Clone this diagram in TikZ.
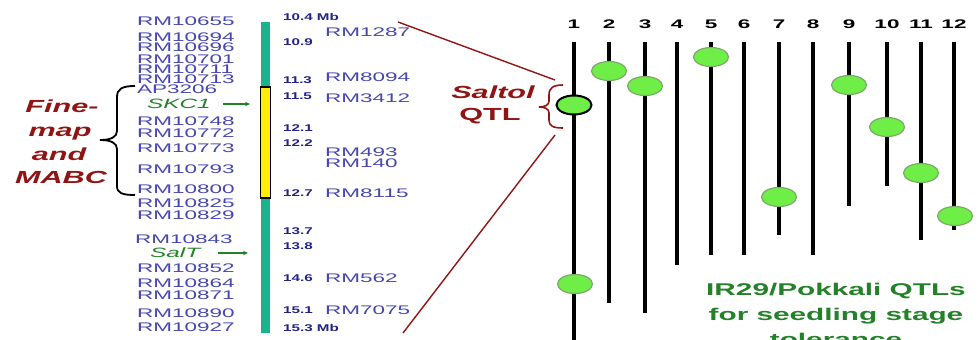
\documentclass[tikz,border=0pt]{standalone}
\usepackage{fontspec}
\setmainfont{Liberation Sans}
\newfontfamily\markfont[FakeStretch=1.8]{Liberation Sans}
\newfontfamily\posfont[FakeStretch=1.55]{Liberation Sans}
\newfontfamily\redfont[FakeStretch=1.75]{Liberation Sans}
\newfontfamily\notefont[FakeStretch=1.75]{Liberation Sans}
\usetikzlibrary{shapes.geometric,arrows.meta}

\definecolor{markblue}{RGB}{70,70,175}
\definecolor{posnavy}{RGB}{35,35,135}
\definecolor{genegreen}{RGB}{35,130,40}
\definecolor{qtlred}{RGB}{145,20,20}
\definecolor{chrteal}{RGB}{25,180,140}
\definecolor{segyellow}{RGB}{255,238,0}
\definecolor{qtlfill}{RGB}{110,238,70}
\definecolor{qtledge}{RGB}{125,170,105}

\tikzset{
  marker/.style={anchor=west, inner sep=0pt, text=markblue,
    font=\markfont\fontsize{12.5}{12.5}\selectfont},
  mbpos/.style={anchor=west, inner sep=0pt, text=posnavy,
    font=\posfont\bfseries\fontsize{9.8}{10}\selectfont},
  gene/.style={anchor=west, inner sep=0pt, text=genegreen,
    font=\markfont\itshape\fontsize{13.5}{14}\selectfont},
  genearrow/.style={-{Stealth[length=5pt,width=4.5pt]}, genegreen, line width=1.2pt},
  qtlline/.style={line width=4.5pt, black},
  qtl/.style={ellipse, minimum width=35pt, minimum height=19pt, inner sep=0pt,
    fill=qtlfill, draw=qtledge, line width=1.2pt},
  colnum/.style={inner sep=0pt, font=\markfont\bfseries\fontsize{12.5}{12.5}\selectfont},
  redtext/.style={anchor=base, inner sep=0pt, text=qtlred,
    font=\redfont\bfseries\itshape\fontsize{17.5}{17.5}\selectfont},
  note/.style={anchor=base, inner sep=0pt, text=genegreen,
    font=\notefont\bfseries\fontsize{17}{17}\selectfont},
  link/.style={qtlred, line width=1.4pt},
}

\begin{document}
\begin{tikzpicture}[x=1pt,y=-1pt]
\useasboundingbox (0,0) rectangle (980,340);

% chromosome bar with the Saltol segment
\fill[chrteal] (261,22) rectangle (270,333);
\draw[fill=segyellow, line width=1.8pt] (260.5,87) rectangle (270.5,198);

% markers to the left of the chromosome
\foreach \yy/\txt [count=\i] in {21/RM10655,37/RM10694,47/RM10696,59/RM10701,
  69/RM10711,79/RM10713,89/AP3206,121/RM10748,133/RM10772,148/RM10773,
  169/RM10793,189/RM10800,203/RM10825,215/RM10829,268/RM10852,
  283/RM10864,295/RM10871,313/RM10890,327/RM10927}
  \node[marker] (lm\i) at (137,\yy) {\txt};
\node[marker] (lm843) at (135,239) {RM10843};

% genes
\node[gene] (skc) at (147,104) {SKC1};
\coordinate (skcend) at (250,104);
\draw[genearrow] (223,104) -- (skcend);
\node[gene] (salt) at (150,253) {SalT};
\coordinate (saltend) at (248,253);
\draw[genearrow] (218,253) -- (saltend);

% physical positions
\foreach \yy/\txt [count=\i] in {17/10.4 Mb,42/10.9,80/11.3,96/11.5,128/12.1,
  143/12.2,193/12.7,231/13.7,246/13.8,278/14.6,310/15.1,328/15.3 Mb}
  \node[mbpos] (mb\i) at (283,\yy) {\txt};

% markers to the right of the chromosome
\foreach \yy/\txt [count=\i] in {32/RM1287,77/RM8094,98/RM3412,152/RM493,
  163/RM140,193/RM8115,278/RM562,310/RM7075}
  \node[marker] (rm\i) at (325,\yy) {\txt};

% fine-mapping brace and label
\node[redtext] (fine1) at (62,112) {Fine-};
\node[redtext] (fine2) at (60,136) {map};
\node[redtext] (fine3) at (59,160) {and};
\node[redtext] (fine4) at (61,183) {MABC};
\draw[line width=1.8pt] (135,86) .. controls (122,86) and (117,89) .. (117,97)
  -- (117,131) .. controls (117,137) and (111,140) .. (100,140)
  .. controls (111,140) and (117,143) .. (117,149)
  -- (117,186) .. controls (117,193) and (122,195) .. (135,195);

% Saltol QTL brace and label
\node[redtext] (saltol) at (493,98) {Saltol};
\node[redtext, font=\redfont\bfseries\fontsize{17.5}{17.5}\selectfont] (qtlword) at (490,120) {QTL};
\draw[qtlred, line width=1.6pt] (563,85) .. controls (553,85) and (549,88) .. (549,95)
  -- (549,101) .. controls (549,105) and (545,107) .. (539,107)
  .. controls (545,107) and (549,109) .. (549,113)
  -- (549,120) .. controls (549,126) and (553,128) .. (563,128);

% links from the chromosome region to the QTL
\coordinate (ltop) at (398,22);
\coordinate (rtop) at (555,80);
\coordinate (lbot) at (403,333);
\coordinate (rbot) at (555,135);
\draw[link] (ltop) -- (rtop);
\draw[link] (lbot) -- (rbot);

% QTL columns
\foreach \xx/\bot [count=\i] in {574/345,609/303,645/313,677/265,711/255,744/255,
  779/235,813/255,849/206,887/186,921/240,954/230}{
  \coordinate (top\i) at (\xx,42);
  \coordinate (bot\i) at (\xx,\bot);
  \node[colnum] (num\i) at (\xx,24) {\i};
  \draw[qtlline] (top\i) -- (bot\i);
}

% QTL positions
\node[qtl, draw=black, line width=2pt] (q1) at (574,105) {};
\node[qtl] (q1b) at (575,284) {};
\node[qtl] (q2) at (609,71) {};
\node[qtl] (q3) at (645,86) {};
\node[qtl] (q5) at (711,57) {};
\node[qtl] (q7) at (779,197) {};
\node[qtl] (q9) at (849,85) {};
\node[qtl] (q10) at (887,127) {};
\node[qtl] (q11) at (921,173) {};
\node[qtl] (q12) at (955,216) {};

% caption
\node[note] (cap1) at (836,295) {IR29/Pokkali QTLs};
\node[note] (cap2) at (836,320) {for seedling stage};
\node[note] (cap3) at (836,345) {tolerance};
\end{tikzpicture}
\end{document}
